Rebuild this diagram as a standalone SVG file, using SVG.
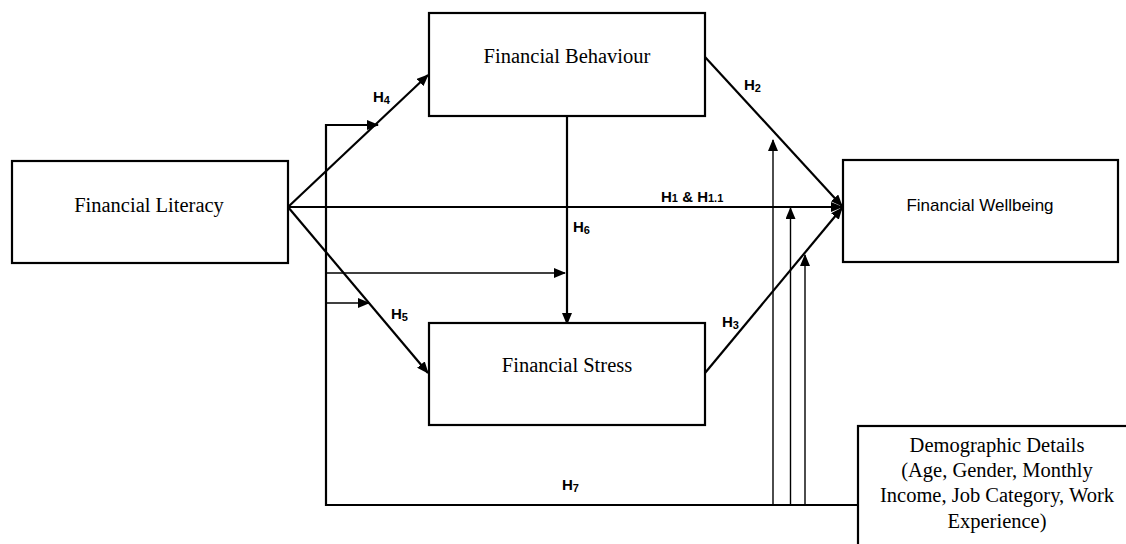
<svg xmlns="http://www.w3.org/2000/svg" width="1126" height="544" viewBox="0 0 1126 544">
<style>
.box{fill:#fff;stroke:#000;stroke-width:2.2}
.t{font-family:"Liberation Serif","Times New Roman",serif;font-size:20.5px;fill:#000;text-anchor:middle}
.ts{font-family:"Liberation Sans",Arial,sans-serif;font-size:17px;fill:#000;text-anchor:middle}
.c{fill:none;stroke:#000;stroke-width:2.2}
.thin{fill:none;stroke:#000;stroke-width:1.4}
.lbl{font-family:"Liberation Sans",Arial,sans-serif;font-weight:bold;font-size:15px;fill:#000}
.sub{font-size:11px}
</style>
<defs>
<marker id="ah" markerUnits="userSpaceOnUse" markerWidth="12" markerHeight="10" refX="11" refY="5" orient="auto">
<path d="M0,0 L12,5 L0,10 Z" fill="#000"/>
</marker>
</defs>
<g id="connectors">
<line class="c" x1="288" y1="207" x2="428" y2="75" marker-end="url(#ah)"/>
<line class="c" x1="288" y1="207" x2="428" y2="373" marker-end="url(#ah)"/>
<line class="c" x1="288" y1="207" x2="842" y2="207" marker-end="url(#ah)"/>
<line class="c" x1="705" y1="57" x2="842" y2="206" marker-end="url(#ah)"/>
<line class="c" x1="705" y1="373" x2="842" y2="208" marker-end="url(#ah)"/>
<line class="c" x1="567" y1="116" x2="567" y2="324" marker-end="url(#ah)"/>
<polyline class="c" points="858,505 326,505 326,125 378,125" marker-end="url(#ah)"/>
<line class="thin" x1="326" y1="273" x2="565" y2="273" marker-end="url(#ah)"/>
<line class="thin" x1="326" y1="303" x2="369" y2="303" marker-end="url(#ah)"/>
<line class="thin" x1="773" y1="505" x2="773" y2="140" marker-end="url(#ah)"/>
<line class="thin" x1="790.5" y1="505" x2="790.5" y2="208" marker-end="url(#ah)"/>
<line class="thin" x1="805" y1="505" x2="805" y2="255" marker-end="url(#ah)"/>
<text class="lbl" x="373" y="102">H<tspan class="sub" dy="2">4</tspan></text>
<text class="lbl" x="744" y="90">H<tspan class="sub" dy="2">2</tspan></text>
<text class="lbl" x="661" y="202">H<tspan class="sub">1</tspan> &amp; H<tspan class="sub">1.1</tspan></text>
<text class="lbl" x="573" y="232">H<tspan class="sub" dy="2">6</tspan></text>
<text class="lbl" x="391" y="319">H<tspan class="sub" dy="2">5</tspan></text>
<text class="lbl" x="722" y="327">H<tspan class="sub" dy="2">3</tspan></text>
<text class="lbl" x="562" y="490">H<tspan class="sub" dy="2">7</tspan></text>
</g>
<g id="financial-literacy">
<rect class="box" x="12" y="161" width="276" height="102"/>
<text class="t" x="149" y="212">Financial Literacy</text>
</g>
<g id="financial-behaviour">
<rect class="box" x="429" y="13" width="276" height="103"/>
<text class="t" x="567" y="63">Financial Behaviour</text>
</g>
<g id="financial-stress">
<rect class="box" x="429" y="323" width="276" height="102"/>
<text class="t" x="567" y="372">Financial Stress</text>
</g>
<g id="financial-wellbeing">
<rect class="box" x="843" y="160" width="275" height="102"/>
<text class="ts" x="980" y="211">Financial Wellbeing</text>
</g>
<g id="demographic-details">
<rect class="box" x="858" y="426" width="280" height="130"/>
<text class="t" x="997" y="452">Demographic Details</text>
<text class="t" x="997" y="477">(Age, Gender, Monthly</text>
<text class="t" x="997" y="502">Income, Job Category, Work</text>
<text class="t" x="997" y="528">Experience)</text>
</g>
</svg>
